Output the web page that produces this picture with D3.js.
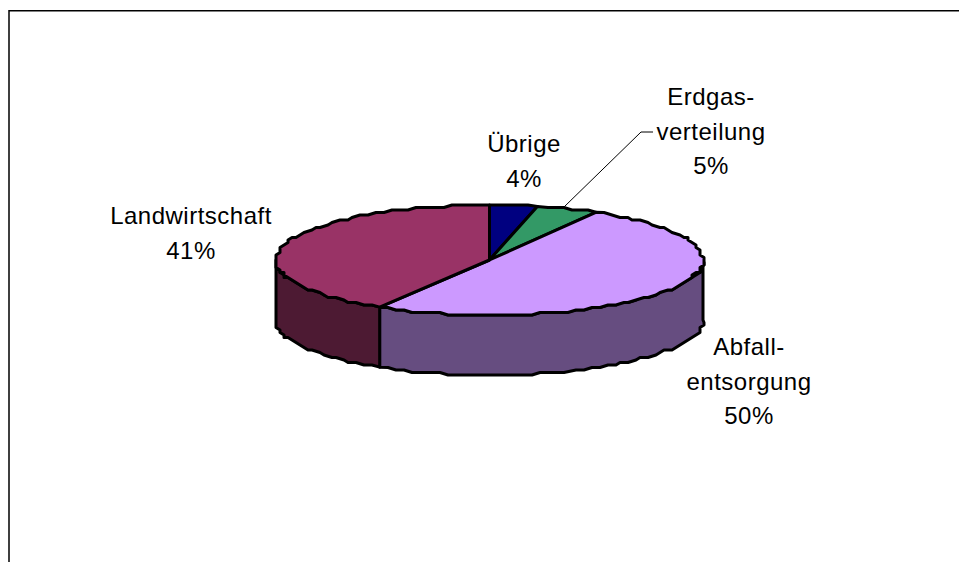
<!DOCTYPE html>
<html><head><meta charset="utf-8">
<script src="https://cdn.jsdelivr.net/npm/d3@7/dist/d3.min.js"></script>
<style>html,body{margin:0;padding:0;background:#fff}svg{display:block}text{font-family:"Liberation Sans",Arial,sans-serif;font-size:24px;letter-spacing:.5px;fill:#000}</style>
</head><body><svg width="959" height="562"></svg>
<script>
const categories=["Übrige","Erdgasverteilung","Abfallentsorgung","Landwirtschaft"];
const values=[3.6,4.7,50.3,41.4];
const topColors=["#000080","#339966","#CC99FF","#993366"];
const sideColors=["#000040","#1a4d33","#664d80","#4d1a33"];
const labelLines=[["Übrige"],["Erdgas-","verteilung"],["Abfall-","entsorgung"],["Landwirtschaft"]];
const labelAnchors=[[524,152],[711,105],[749,355],[191,224]];

const svg=d3.select("svg");
const x=d3.scaleLinear().domain([-1,1]).range([276,703]);
const y=d3.scaleLinear().domain([-1,1]).range([205,315]);
const depth=60;
const pie=d3.pie().sort(null).value(d=>d).startAngle(0).endAngle(2*Math.PI);
const arcs=pie(values);
const line=d3.line();
function rimPts(a0,a1,dy){
  const n=Math.max(2,Math.ceil((a1-a0)/(Math.PI/72)));
  return d3.range(n+1).map(i=>{
    const a=a0+(a1-a0)*i/n, ax=x(Math.sin(a)), ay=y(-Math.cos(a));
    if(i===0||i===n) return [ax,ay+dy];
    return [Math.round(ax/4)*4,Math.round(ay/2.5)*2.5+dy];
  });
}
const sw=3;
arcs.forEach((d,i)=>{
  const a0=Math.max(d.startAngle,Math.PI/2),a1=Math.min(d.endAngle,3*Math.PI/2);
  if(a1<=a0)return;
  const pts=rimPts(a0,a1,0).concat(rimPts(a0,a1,depth).reverse());
  svg.append("path").attr("d",line(pts)+"Z").attr("fill",sideColors[i]).attr("stroke","#000").attr("stroke-width",sw).attr("stroke-linejoin","round");
});
arcs.forEach((d,i)=>{
  const pts=[[x(0),y(0)]].concat(rimPts(d.startAngle,d.endAngle,0));
  svg.append("path").attr("d",line(pts)+"Z").attr("fill",topColors[i]).attr("stroke","#000").attr("stroke-width",sw).attr("stroke-linejoin","round");
});
svg.append("path").attr("d",line([[564,207],[641,132],[653,132]])).attr("fill","none").attr("stroke","#000").attr("stroke-width",1);
labelLines.forEach((ls,i)=>{
  const t=svg.append("text").attr("text-anchor","middle");
  ls.concat(Math.round(values[i])+"%").forEach((s,j)=>t.append("tspan").attr("x",labelAnchors[i][0]).attr("y",labelAnchors[i][1]+j*34.5).text(s));
});
svg.append("path").attr("d",line([[9,562],[9,10.75],[959,10.75]])).attr("fill","none").attr("stroke","#000").attr("stroke-width",1.5);
</script></body></html>
